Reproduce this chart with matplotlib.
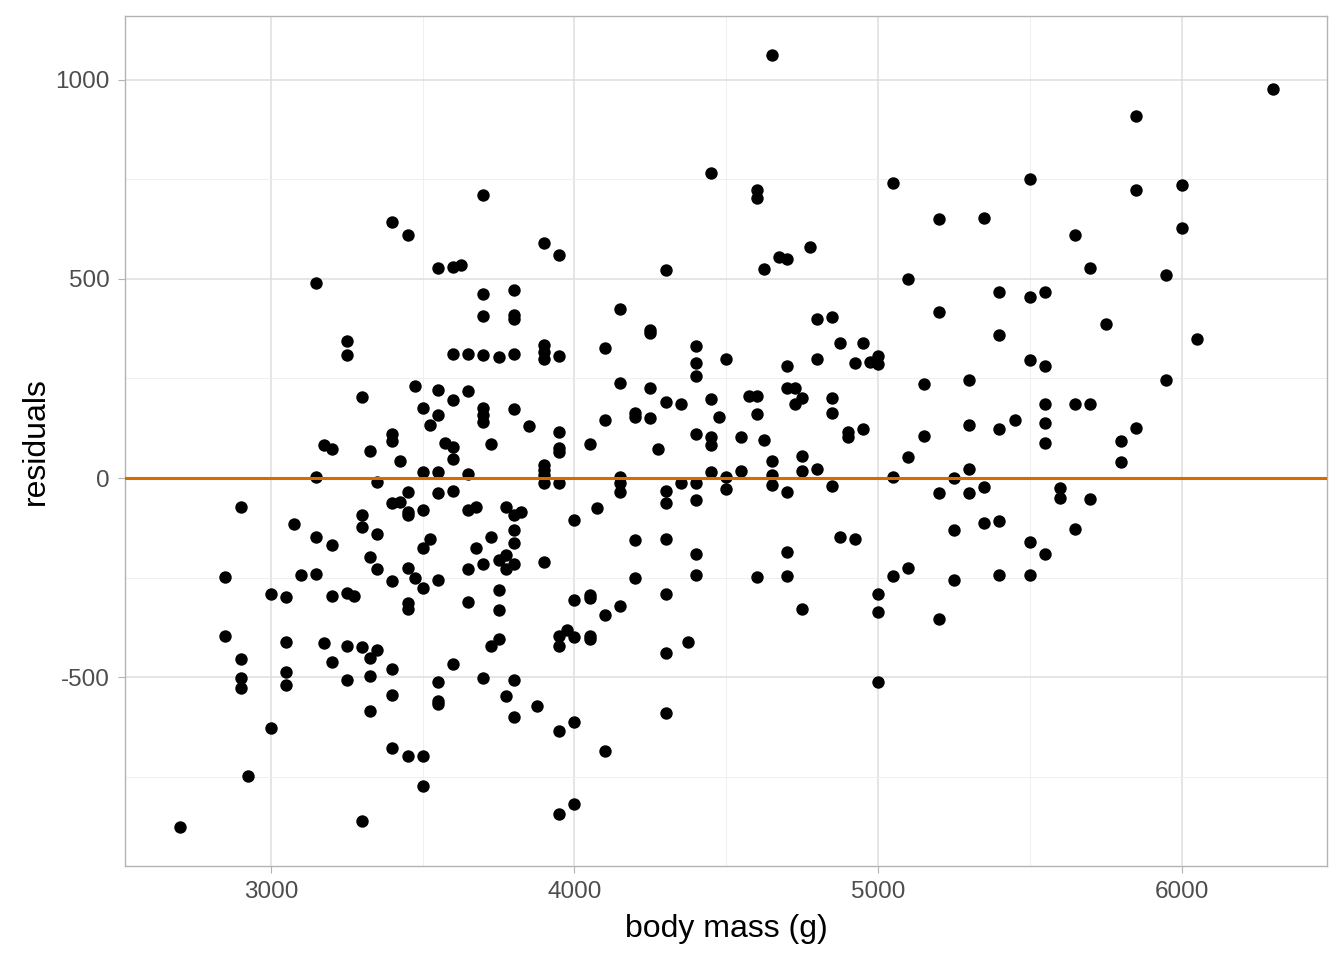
import matplotlib
matplotlib.use('Agg')
import matplotlib.pyplot as plt
from matplotlib.ticker import MultipleLocator

# ── data: body mass (g) and model residuals ──────────────────────────────────
body_mass = [
    4650, 6300, 5850, 4450, 5050, 5500, 6000, 5850, 4600, 4600,
    3700, 3400, 3450, 5200, 5350, 6000, 5650, 3900, 4675, 4700,
    3950, 4775, 3550, 3600, 3625, 4300, 4625, 5700, 3150, 5100,
    5950, 3700, 3800, 5400, 5500, 5550, 3800, 3800, 3700, 4150,
    4800, 4850, 5200, 5750, 4250, 4250, 5400, 6050, 3250, 3250,
    3900, 3900, 3900, 3950, 3600, 3650, 3700, 3750, 3800, 4100,
    4400, 4400, 4500, 4875, 4950, 5000, 5000, 4925, 4975, 4800,
    4700, 5500, 5550, 4400, 5950, 5300, 3475, 4150, 4250, 4700,
    4725, 5150, 3550, 3650, 3300, 3600, 4300, 4350, 4450, 4575,
    4600, 4750, 4725, 4850, 5550, 5650, 5700, 3500, 3700, 3700,
    3700, 3800, 3550, 4200, 4200, 4250, 4600, 4850, 4475, 4100,
    5450, 5550, 3525, 3850, 5300, 5850, 4950, 4900, 5400, 4400,
    3950, 4900, 3400, 4550, 5150, 4450, 3400, 3575, 3725, 4450,
    4050, 5550, 5800, 3175, 3200, 3600, 3325, 3950, 3950, 4275,
    3425, 3600, 4650, 4750, 5100, 5800, 3900, 3900, 3900, 5300,
    4800, 4750, 4550, 4450, 3500, 3550, 3650, 4650, 3150, 5050,
    5250, 4150, 4500, 4625,
    3350, 3900, 3950, 4350, 4400, 4650, 4850, 5350, 4150, 4150,
    4500, 5600, 4300, 3600, 3550, 3450, 4700, 5200, 5300, 5600,
    5700, 4400, 3425, 3400, 4300, 4075, 2900, 3650, 3675, 3775,
    3500, 3825, 3800, 3450, 3450, 5350, 5400, 4000, 3300, 3075,
    3300, 5650, 5250, 3800, 3350, 3150, 4875, 4925, 3725, 4300,
    5500, 4200, 3525, 3200, 3800, 3500, 3675, 5550, 4400, 4700,
    3775, 3325, 3750, 3900, 3700, 3800, 3775, 3650, 3350, 5100,
    3450, 3100, 3150, 4700, 4400, 5500, 5400, 5050, 2850, 4600,
    4200, 5250, 3400, 3550, 3475, 3750, 3500, 3250, 3275, 3200,
    3000, 3050, 4300, 5000, 4050, 4050, 4000, 3450, 3650, 3450,
    4150, 3750, 4750, 5000, 4100, 5200, 4000, 3975, 3950, 3950,
    4050, 4050, 2850, 3750, 4375, 3050, 3175, 3250, 3300, 3725,
    3350, 3325, 4300, 2900, 3200, 3600, 3400, 3050, 2900, 3325,
    3700, 3250, 3800, 5000, 3550, 2900, 3050, 3775, 3400, 3550,
    3550, 3875, 3325, 4300, 3800, 4000, 3000, 3950, 3400, 4100,
    3450, 3500, 2925, 3500, 4000, 3950, 3300, 2700,
]

residuals = [
    1063, 978, 910, 766, 741, 751, 736, 722, 722, 703,
    710, 643, 609, 650, 652, 627, 609, 589, 555, 550,
    559, 579, 527, 530, 536, 522, 525, 527, 490, 500,
    511, 461, 473, 467, 454, 468, 409, 399, 407, 424,
    399, 405, 416, 386, 371, 364, 359, 348, 344, 310,
    333, 317, 298, 307, 311, 311, 308, 304, 311, 327,
    332, 290, 300, 338, 338, 306, 286, 289, 292, 298,
    282, 296, 281, 257, 246, 246, 231, 239, 227, 227,
    227, 235, 221, 218, 204, 196, 191, 187, 198, 206,
    206, 200, 186, 200, 186, 185, 187, 175, 175, 158,
    140, 173, 158, 164, 154, 150, 162, 164, 154, 145,
    147, 139, 133, 131, 133, 125, 123, 116, 123, 110,
    115, 102, 110, 104, 105, 104, 94, 89, 85, 83,
    85, 89, 94, 83, 74, 79, 68, 76, 66, 74,
    43, 49, 43, 56, 52, 40, 33, 20, 8, 23,
    23, 18, 18, 16, 16, 16, 10, 8, 2, 3,
    1, 3, 3, 95,
    -9, -13, -13, -13, -13, -18, -19, -22, -13, -34,
    -28, -24, -33, -32, -37, -34, -36, -38, -37, -51,
    -53, -55, -59, -63, -63, -76, -73, -79, -73, -73,
    -79, -86, -93, -85, -93, -112, -107, -105, -93, -115,
    -122, -128, -130, -130, -140, -147, -149, -154, -147, -153,
    -160, -155, -154, -168, -164, -176, -176, -191, -191, -185,
    -193, -199, -206, -211, -216, -216, -229, -229, -228, -226,
    -226, -243, -242, -245, -243, -243, -243, -246, -249, -248,
    -250, -255, -258, -256, -252, -281, -277, -288, -296, -296,
    -291, -299, -291, -291, -293, -302, -306, -314, -312, -329,
    -321, -331, -329, -337, -345, -354, -398, -381, -396, -421,
    -396, -405, -396, -405, -411, -412, -413, -421, -423, -421,
    -431, -452, -438, -455, -462, -466, -480, -488, -501, -497,
    -502, -507, -508, -511, -512, -527, -520, -548, -544, -559,
    -567, -572, -584, -589, -600, -613, -627, -635, -677, -684,
    -699, -697, -747, -772, -818, -843, -860, -877,
]

x_ticks = [3000, 4000, 5000, 6000]
y_ticks = [-500, 0, 500, 1000]

# ── figure (theme_light look) ───────────────────────────────────────────────
plt.rcParams['font.family'] = ['Liberation Sans', 'DejaVu Sans']
plt.rcParams['axes.unicode_minus'] = False   # plain hyphen like ggplot

fig = plt.figure(figsize=(13.44, 9.6), dpi=100)
ax = fig.add_axes([0.0932, 0.0979, 0.8943, 0.8854])

ax.scatter(body_mass, residuals, s=80, color='black', linewidths=0, zorder=3)
ax.axhline(0, color='#D96A00', linewidth=2.2, zorder=4)

# limits with ggplot-like 5% expansion
xmin, xmax = min(body_mass), max(body_mass)
ymin, ymax = min(residuals), max(residuals)
xpad = (xmax - xmin) * 0.05
ypad = (ymax - ymin) * 0.05
ax.set_xlim(xmin - xpad, xmax + xpad)
ax.set_ylim(ymin - ypad, ymax + ypad)

ax.set_xticks(x_ticks)
ax.set_yticks(y_ticks)
ax.xaxis.set_minor_locator(MultipleLocator(500))
ax.yaxis.set_minor_locator(MultipleLocator(250))

ax.grid(which='major', color='#DEDEDE', linewidth=1.1, zorder=0)
ax.grid(which='minor', color='#EDEDED', linewidth=0.6, zorder=0)
ax.set_axisbelow(True)

for s in ax.spines.values():
    s.set_color('#B3B3B3')
    s.set_linewidth(1.0)

ax.tick_params(which='major', length=5, width=0.8, color='#B3B3B3',
               labelsize=17.5, labelcolor='#4D4D4D', pad=6)
ax.tick_params(which='minor', length=0)

ax.set_xlabel('body mass (g)', fontsize=23, color='black', labelpad=8)
ax.set_ylabel('residuals', fontsize=23, color='black', labelpad=16)
ax.yaxis.set_label_coords(-0.062, 0.5)

fig.savefig('out.png', dpi=100, facecolor='white')
